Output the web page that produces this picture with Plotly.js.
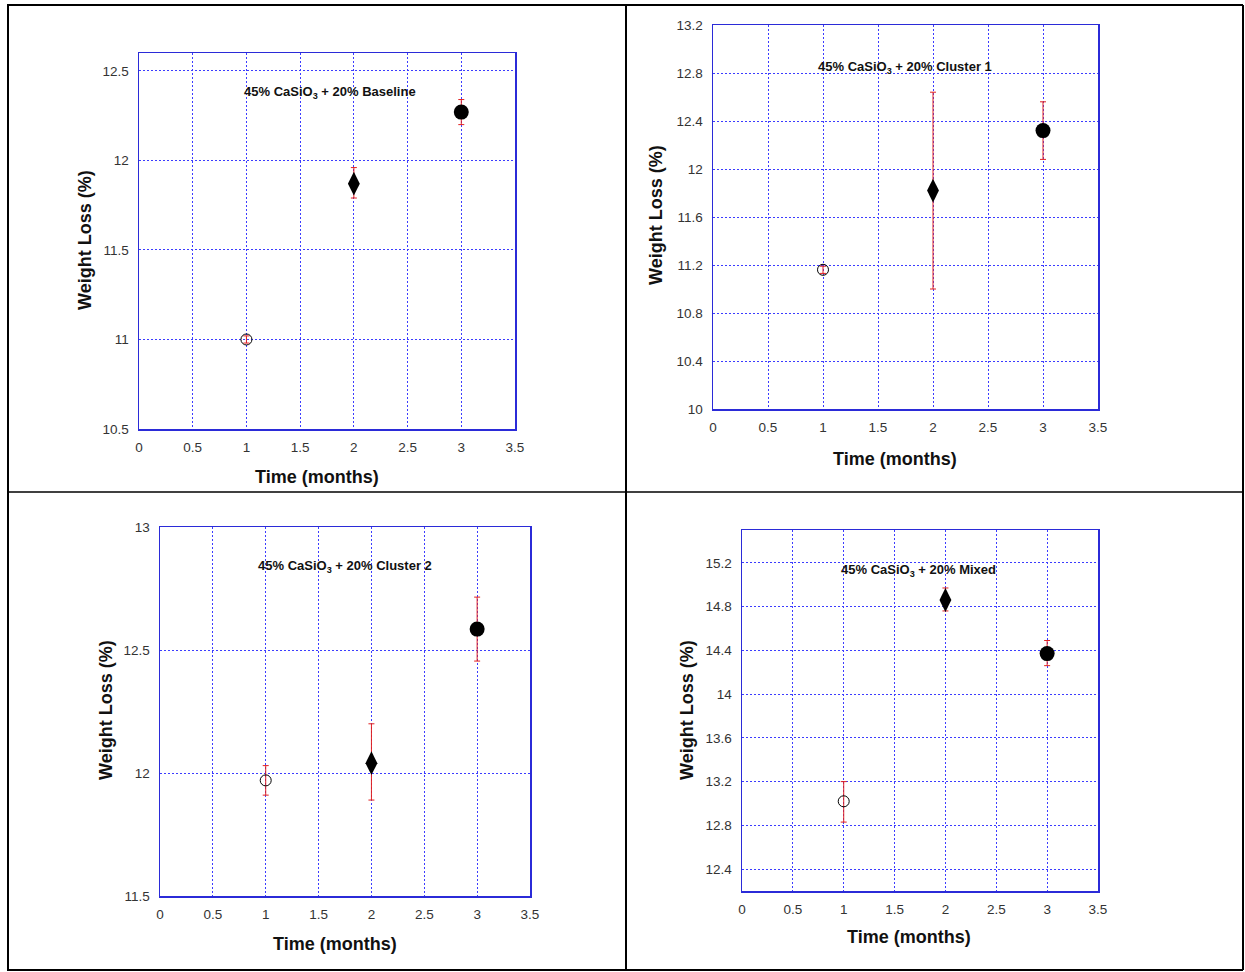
<!DOCTYPE html>
<html><head><meta charset="utf-8">
<script src="https://cdn.plot.ly/plotly-3.0.1.min.js"></script>
<style>html,body{margin:0;padding:0;background:#fff;}#chart{width:1245px;height:972px;}</style>
</head><body><div id="chart"></div>
<script>
// Data
const months = [1, 2, 3];
const panelNames = ["Baseline", "Cluster 1", "Cluster 2", "Mixed"];
const baselineVals = [11.0, 11.87, 12.27];
const baselineErrPlus = [0.02, 0.09, 0.07];
const baselineErrMinus = [0.02, 0.08, 0.07];
const cluster1Vals = [11.16, 11.82, 12.32];
const cluster1ErrPlus = [0.03, 0.82, 0.24];
const cluster1ErrMinus = [0.03, 0.82, 0.24];
const cluster2Vals = [11.97, 12.04, 12.585];
const cluster2ErrPlus = [0.06, 0.16, 0.13];
const cluster2ErrMinus = [0.06, 0.15, 0.13];
const mixedVals = [13.02, 14.86, 14.37];
const mixedErrPlus = [0.18, 0.11, 0.12];
const mixedErrMinus = [0.19, 0.10, 0.11];
const yTicks1 = [10.5, 11, 11.5, 12, 12.5];
const yTicks2 = [10, 10.4, 10.8, 11.2, 11.6, 12, 12.4, 12.8, 13.2];
const yTicks3 = [11.5, 12, 12.5, 13];
const yTicks4 = [12.4, 12.8, 13.2, 13.6, 14, 14.4, 14.8, 15.2];
const xTicks = [0, 0.5, 1, 1.5, 2, 2.5, 3, 3.5];
const xTitle = "Time (months)";
const yTitle = "Weight Loss (%)";

const W = 1245, H = 972;
const px = v => v / W, py = v => 1 - v / H;
const BLUE = "#2b2bd8";
const GRID = "#3c3cff";

const series = [
  {vals: baselineVals, ep: baselineErrPlus, em: baselineErrMinus, ticks: yTicks1, range: [10.5, 12.6],
   box: [139, 515, 53, 429], ann: [330, 93], ytl: [85, 240], xtl: [317, 477]},
  {vals: cluster1Vals, ep: cluster1ErrPlus, em: cluster1ErrMinus, ticks: yTicks2, range: [10, 13.2],
   box: [713, 1098, 25, 409], ann: [905, 67], ytl: [656, 215], xtl: [895, 459]},
  {vals: cluster2Vals, ep: cluster2ErrPlus, em: cluster2ErrMinus, ticks: yTicks3, range: [11.5, 13],
   box: [160, 530, 527, 896], ann: [345, 566], ytl: [106, 710], xtl: [335, 944]},
  {vals: mixedVals, ep: mixedErrPlus, em: mixedErrMinus, ticks: yTicks4, range: [12.2, 15.5],
   box: [742, 1098, 530, 891], ann: [918, 570], ytl: [687, 710], xtl: [909, 937]}
];

const symbols = ["circle-open", "diamond-tall", "circle"];
const sizes = [11, 17, 15];

const traces = [];
const layout = {
  width: W, height: H, margin: {l: 0, r: 0, t: 0, b: 0},
  paper_bgcolor: "#fff", plot_bgcolor: "#fff", showlegend: false,
  font: {family: "Liberation Sans, Arial, sans-serif", color: "#222"},
  annotations: [], shapes: []
};

series.forEach((s, i) => {
  const n = i + 1;
  const xa = "x" + (n === 1 ? "" : n), ya = "y" + (n === 1 ? "" : n);
  const xkey = "xaxis" + (n === 1 ? "" : n), ykey = "yaxis" + (n === 1 ? "" : n);
  for (let k = 0; k < months.length; k++) {
    traces.push({
      type: "scatter", mode: "markers", xaxis: xa, yaxis: ya,
      x: [months[k]], y: [s.vals[k]],
      marker: {symbol: symbols[k], size: sizes[k], color: "#000", line: {color: "#000", width: k === 0 ? 1 : 0}},
      error_y: {type: "data", symmetric: false, array: [s.ep[k]], arrayminus: [s.em[k]],
                color: "#e02020", thickness: 1, width: 3},
      hoverinfo: "x+y"
    });
  }
  layout[xkey] = {
    domain: [px(s.box[0]), px(s.box[1])], anchor: ya, range: [0, 3.5],
    tickvals: xTicks, ticktext: xTicks.map(String),
    showgrid: true, gridcolor: GRID, griddash: "2px,2px", gridwidth: 1,
    showline: true, mirror: true, linecolor: BLUE, linewidth: 1.5,
    zeroline: false, ticks: "", ticklabelstandoff: 5,
    tickfont: {size: 13.5, color: "#333"}
  };
  layout[ykey] = {
    domain: [py(s.box[3]), py(s.box[2])], anchor: xa, range: s.range,
    tickvals: s.ticks, ticktext: s.ticks.map(String),
    showgrid: true, gridcolor: GRID, griddash: "2px,2px", gridwidth: 1,
    showline: true, mirror: true, linecolor: BLUE, linewidth: 1.5,
    zeroline: false, ticks: "", ticklabelstandoff: 6,
    tickfont: {size: 13.5, color: "#333"}
  };
  layout.annotations.push({
    xref: "paper", yref: "paper", x: px(s.ann[0]), y: py(s.ann[1]),
    text: "<b>45% CaSiO<sub>3</sub> + 20% " + panelNames[i] + "</b>", showarrow: false,
    font: {size: 13, color: "#111", family: "Liberation Sans, Arial, sans-serif"},
    xanchor: "center", yanchor: "middle"
  });
  layout.annotations.push({
    xref: "paper", yref: "paper", x: px(s.ytl[0]), y: py(s.ytl[1]),
    text: "<b>" + yTitle + "</b>", showarrow: false, textangle: -90,
    font: {size: 18, color: "#111"}, xanchor: "center", yanchor: "middle"
  });
  layout.annotations.push({
    xref: "paper", yref: "paper", x: px(s.xtl[0]), y: py(s.xtl[1]),
    text: "<b>" + xTitle + "</b>", showarrow: false,
    font: {size: 18, color: "#111"}, xanchor: "center", yanchor: "middle"
  });
});

// table borders
const ln = (x0, y0, x1, y1, w) => ({type: "line", xref: "paper", yref: "paper",
  x0: px(x0), y0: py(y0), x1: px(x1), y1: py(y1), line: {color: "#000", width: w}});
layout.shapes.push(ln(7, 5, 1243, 5, 2));
layout.shapes.push(ln(7, 970, 1243, 970, 2));
layout.shapes.push(ln(8, 5, 8, 970, 2));
layout.shapes.push(ln(1243, 5, 1243, 970, 2));
layout.shapes.push(ln(626, 5, 626, 970, 2));
layout.shapes.push(ln(8, 492, 1243, 492, 1.5));

Plotly.newPlot("chart", traces, layout, {displayModeBar: false, staticPlot: true});
</script></body></html>
